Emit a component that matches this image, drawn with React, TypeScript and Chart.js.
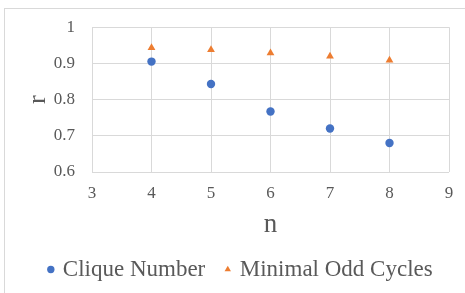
import React, { useEffect, useRef } from "react";
import { Chart, registerables } from "chart.js";

Chart.register(...registerables);

const nValues = [4, 5, 6, 7, 8];
const cliqueNumber = [0.905, 0.843, 0.767, 0.72, 0.68];
const minimalOddCycles = [0.943, 0.938, 0.929, 0.92, 0.909];
const xTicks = [3, 4, 5, 6, 7, 8, 9];
const yTicks = [0.6, 0.7, 0.8, 0.9, 1];
const yTickLabels = ["0.6", "0.7", "0.8", "0.9", "1"];
const seriesNames = ["Clique Number", "Minimal Odd Cycles"];

const FONT = "'Liberation Serif', 'Times New Roman', serif";
const TEXT = "#595959";
const GRID = "#d9d9d9";

export default function App() {
  const ref = useRef<HTMLCanvasElement | null>(null);
  useEffect(() => {
    if (!ref.current) return;
    const chart = new Chart(ref.current, {
      type: "scatter",
      data: {
        datasets: [
          {
            label: seriesNames[0],
            data: nValues.map((n, i) => ({ x: n, y: cliqueNumber[i] })),
            backgroundColor: "#4472C4",
            borderColor: "#4472C4",
            pointStyle: "circle",
            pointRadius: 4.2,
            borderWidth: 0,
          },
          {
            label: seriesNames[1],
            data: nValues.map((n, i) => ({ x: n, y: minimalOddCycles[i] })),
            backgroundColor: "#ED7D31",
            borderColor: "#ED7D31",
            pointStyle: "triangle",
            pointRadius: 4.5,
            borderWidth: 0,
          },
        ],
      },
      options: {
        responsive: false,
        animation: false,
        events: [],
        layout: { padding: { left: 18, right: 0, top: 24, bottom: 2 } },
        plugins: {
          tooltip: { enabled: false },
          legend: {
            position: "bottom",
            labels: {
              usePointStyle: true,
              boxWidth: 1,
              boxHeight: 5.2,
              padding: 22,
              color: TEXT,
              font: { family: FONT, size: 23 },
            },
          },
        },
        scales: {
          x: {
            type: "linear",
            min: xTicks[0],
            max: xTicks[xTicks.length - 1],
            afterBuildTicks: (s: any) => {
              s.ticks = xTicks.map((v) => ({ value: v }));
            },
            afterFit: (s: any) => {
              s.height = 64;
            },
            grid: { color: GRID, drawTicks: false, lineWidth: 1 },
            border: { display: false },
            ticks: {
              padding: 11,
              color: TEXT,
              font: { family: FONT, size: 17 },
              callback: (v: any) => String(v),
            },
            title: {
              display: true,
              text: "n",
              color: TEXT,
              font: { family: FONT, size: 27, lineHeight: 1 },
              padding: { top: 0, bottom: -2.5 },
            },
          },
          y: {
            type: "linear",
            min: yTicks[0],
            max: yTicks[yTicks.length - 1],
            afterBuildTicks: (s: any) => {
              s.ticks = yTicks.map((v) => ({ value: v }));
            },
            afterFit: (s: any) => {
              s.width = 74;
            },
            grid: { color: GRID, drawTicks: false, lineWidth: 1 },
            border: { display: false },
            ticks: {
              padding: 17,
              color: TEXT,
              font: { family: FONT, size: 17 },
              callback: (v: any) => {
                const i = yTicks.findIndex((t) => Math.abs(t - v) < 1e-9);
                return i >= 0 ? yTickLabels[i] : "";
              },
            },
            title: {
              display: true,
              text: "r",
              color: TEXT,
              font: { family: FONT, size: 26, lineHeight: 1 },
              padding: { top: 7, bottom: 0 },
            },
          },
          spacer: {
            type: "linear",
            position: "right",
            display: true,
            afterFit: (s: any) => {
              s.width = 16;
            },
            grid: { display: false, drawTicks: false },
            border: { display: false },
            ticks: { display: false },
          },
        },
      },
    });
    return () => chart.destroy();
  }, []);

  return (
    <div
      style={{
        position: "absolute",
        left: 0,
        top: 0,
        width: 465,
        height: 293,
        overflow: "hidden",
        background: "#fff",
      }}
    >
      <div
        style={{
          position: "absolute",
          left: 4,
          top: 8,
          width: 600,
          height: 600,
          border: "1px solid #d9d9d9",
          boxSizing: "border-box",
        }}
      />
      <canvas
        ref={ref}
        width={465}
        height={293}
        style={{ position: "absolute", left: 0, top: 0, width: 465, height: 293 }}
      />
    </div>
  );
}
